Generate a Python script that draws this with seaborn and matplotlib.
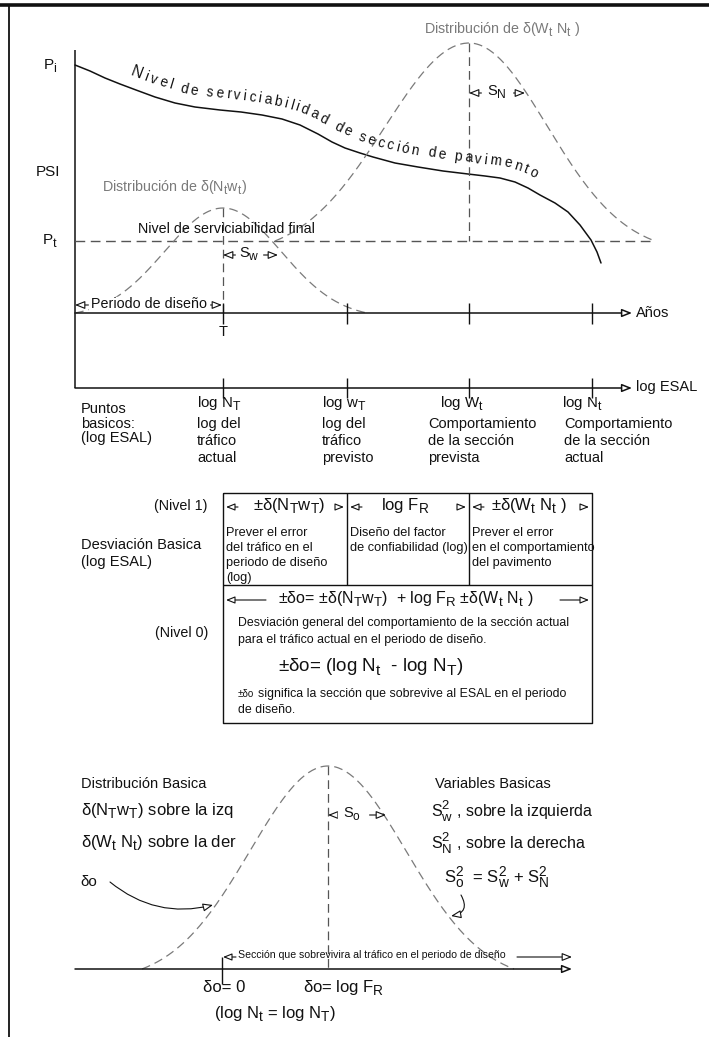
import numpy as np
import matplotlib
matplotlib.use("Agg")
import matplotlib.pyplot as plt
import seaborn as sns
from matplotlib.font_manager import FontProperties
from matplotlib.textpath import TextToPath

sns.set_theme(style="white")
FAMILY = "Liberation Sans"
plt.rcParams["font.family"] = [FAMILY, "DejaVu Sans"]
plt.rcParams["mathtext.fontset"] = "custom"
for _k in ("rm", "it", "bf", "sf"):
    plt.rcParams["mathtext." + _k] = FAMILY
plt.rcParams["mathtext.default"] = "regular"

# larger, lower subscripts as in drafting lettering
try:
    import matplotlib._mathtext as _mt
    _mt.SHRINK_FACTOR = 0.82
    _mt.FontConstantsBase.sub1 = 0.42
    _mt.FontConstantsBase.sub2 = 0.55
except Exception:
    pass

W, H = 709, 1037

# ---------------------------------------------------------------- data
# pavement serviceability (PSI) curve on the canvas grid
psi_x = [75, 90, 105, 120, 136, 155, 175, 195, 220, 241, 262, 282, 300, 318, 332,
         345, 360, 373, 395, 418, 443, 468, 485, 500, 515, 528, 540, 555, 568, 580,
         591, 597, 601]
psi_y = [65, 71, 78, 84, 90, 97, 103, 107, 110, 112, 115, 119, 125, 134, 142,
         148, 153, 157, 163, 167, 171, 174, 176, 178, 182, 188, 195, 203, 212, 225,
         240, 252, 263]
psi_caption = "Nivel de serviciabilidad de sección de pavimento"

# key points along the traffic axes
point_x = [223, 347, 469, 592]
point_labels = ["log N$_T$", "log w$_T$", "log W$_t$", "log N$_t$"]
point_notes = [["log del", "tráfico", "actual"],
               ["log del", "tráfico", "previsto"],
               ["Comportamiento", "de la sección", "prevista"],
               ["Comportamiento", "de la sección", "actual"]]

# distributions: mean, left sd, right sd, left end, right end, peak, base
bell_traffic = dict(mean=223, sdl=58, sdr=58, lo=75, hi=367, top=208, base=313)
bell_perf = dict(mean=469, sdl=84, sdr=78, lo=275, hi=655, top=43, base=241)
bell_total = dict(mean=328, sdl=78, sdr=78, lo=142, hi=514, top=766, base=969)

# reliability table
level1_heads = ["±δ(N$_T$w$_T$)", "log F$_R$", "±δ(W$_t$ N$_t$ )"]
level1_notes = [["Prever el error", "del tráfico en el", "periodo de diseño", "(log)"],
                ["Diseño del factor", "de confiabilidad (log)"],
                ["Prever el error", "en el comportamiento", "del pavimento"]]

BLACK = "#111111"
GREY = "#7a7a7a"
DASH = (0, (7, 4))

fig = plt.figure(figsize=(W / 100, H / 100), dpi=100)
ax = fig.add_axes([0, 0, 1, 1])
ax.set_xlim(0, W)
ax.set_ylim(H, 0)
ax.axis("off")

PX = 72 / 100  # points per canvas unit


def seg(x, y, color=BLACK, lw=1.0, ls="-"):
    ax.plot(x, y, color=color, lw=lw, ls=ls, solid_capstyle="butt")


def arrow(x0, y0, x1, y1, both=False, rad=0.0, lw=0.8, hl=0.5, hw=0.2):
    style = ("<|-|>" if both else "-|>") + f",head_length={hl},head_width={hw}"
    ax.annotate("", xy=(x1, y1), xytext=(x0, y0),
                arrowprops=dict(arrowstyle=style, fc="white", ec=BLACK, lw=lw,
                                shrinkA=0, shrinkB=0, mutation_scale=12,
                                connectionstyle=f"arc3,rad={rad}"))


def txt(x, y, s, size=10.5, ha="left", va="center", color=BLACK, **kw):
    ax.text(x, y, s, fontsize=size, ha=ha, va=va, color=color, **kw)


def stack(x, y0, dy, rows, size=10.5, **kw):
    for i, r in enumerate(rows):
        txt(x, y0 + i * dy, r, size=size, **kw)


def bell(p):
    x = np.linspace(p["lo"], p["hi"], 200)
    sd = np.where(x < p["mean"], p["sdl"], p["sdr"])
    g = np.exp(-0.5 * ((x - p["mean"]) / sd) ** 2)
    e_lo = np.exp(-0.5 * ((p["lo"] - p["mean"]) / p["sdl"]) ** 2)
    e_hi = np.exp(-0.5 * ((p["hi"] - p["mean"]) / p["sdr"]) ** 2)
    edge = np.where(x < p["mean"], e_lo, e_hi)
    g = np.clip((g - edge) / (1 - edge), 0, 1)
    y = p["base"] - (p["base"] - p["top"]) * g
    sns.lineplot(x=x, y=y, ax=ax, color=GREY, lw=0.9, linestyle=DASH,
                 estimator=None, sort=False)


# ---------------------------------------------------------------- frame
seg([0, W], [5, 5], lw=2.6)
seg([9, 9], [5, H], lw=1.3)

# ---------------------------------------------------------------- upper diagram
seg([75, 75], [50, 388], lw=1.1)
txt(50, 66, "P$_i$", size=11, ha="center")
txt(48, 172, "PSI", size=11, ha="center")
txt(50, 241, "P$_t$", size=11, ha="center")

# terminal serviceability
seg([75, 655], [241, 241], color="#555555", lw=1.0, ls=DASH)
txt(138, 229, "Nivel de serviciabilidad final", size=10.3)

# serviceability curve
sns.lineplot(x=psi_x, y=psi_y, ax=ax, color=BLACK, lw=1.1, estimator=None, sort=False)

# caption following the curve
t2p = TextToPath()


def text_along(xs, ys, text, gap, start, tracking):
    xs = np.asarray(xs, float)
    ys = np.asarray(ys, float)
    s = np.r_[0, np.cumsum(np.hypot(np.diff(xs), np.diff(ys)))]
    ss = np.linspace(0, s[-1], 3000)
    px, py = np.interp(ss, s, xs), np.interp(ss, s, ys)
    k = np.ones(150) / 150
    tx = np.convolve(np.gradient(px), k, mode="same")
    ty = np.convolve(np.gradient(py), k, mode="same")
    n = np.hypot(tx, ty)
    tx, ty = tx / n, ty / n
    ox, oy = px + gap * ty, py - gap * tx
    so = np.r_[0, np.cumsum(np.hypot(np.diff(ox), np.diff(oy)))]
    pos = start
    for i, ch in enumerate(text):
        size = 11.5 if i == 0 else 9.8
        fp = FontProperties(family=FAMILY, size=size)
        if ch == " ":
            w = 0.278 * size
        else:
            w = t2p.get_text_width_height_descent(ch, fp, ismath=False)[0]
        j = int(np.clip(np.searchsorted(so, pos), 0, len(so) - 1))
        ang = np.degrees(np.arctan2(-ty[j], tx[j]))
        ax.text(ox[j], oy[j], ch, fontproperties=fp, rotation=ang,
                rotation_mode="anchor", ha="left", va="baseline", color=BLACK)
        pos += w / PX + tracking


text_along(psi_x, psi_y, psi_caption, gap=12, start=55, tracking=2.7)

# performance distribution
bell(bell_perf)
seg([469, 469], [43, 241], color="#555555", lw=0.9, ls=DASH)
arrow(469, 93, 525, 93, both=True)
ax.add_patch(plt.Rectangle((482, 84), 30, 16, color="white", zorder=3))
txt(497, 92, "S$_N$", size=10.5, ha="center", zorder=4)
txt(502, 30, "Distribución de δ(W$_t$ N$_t$ )", size=10.3, ha="center", color=GREY)

# traffic distribution
bell(bell_traffic)
seg([223, 223], [208, 313], color="#555555", lw=0.9, ls=DASH)
arrow(223, 255, 278, 255, both=True)
ax.add_patch(plt.Rectangle((236, 246), 26, 16, color="white", zorder=3))
txt(249, 254, "S$_w$", size=10.5, ha="center", zorder=4)
txt(102, 188, "Distribución de δ(N$_t$w$_t$)", size=10.3, color=GREY)

# design period
arrow(75, 305, 222, 305, both=True)
ax.add_patch(plt.Rectangle((89, 297), 120, 15, color="white", zorder=3))
txt(149, 304, "Periodo de diseño", size=10.3, ha="center", zorder=4)

# time axis and load axis
arrow(75, 313, 632, 313, lw=1.1)
txt(636, 313, "Años", size=10.5)
arrow(75, 388, 632, 388, lw=1.1)
txt(636, 387, "log ESAL", size=10.5)
for xp in point_x:
    seg([xp, xp], [303, 324], lw=1.0)
    seg([xp, xp], [378, 398], lw=1.0)
txt(223, 332, "T", size=10.5, ha="center")

# labels of the key points
stack(81, 409, 14.5, ["Puntos", "basicos:", "(log ESAL)"])
label_x = [197, 322, 440, 562]
note_x = [197, 322, 428, 564]
for lx, nx, lab, notes in zip(label_x, note_x, point_labels, point_notes):
    txt(lx, 404, lab, size=10.8)
    stack(nx, 424, 17, notes)

# ---------------------------------------------------------------- table
seg([223, 592, 592, 223, 223], [493, 493, 723, 723, 493], lw=1.0)
seg([223, 592], [585, 585], lw=1.0)
for xv in (347, 469):
    seg([xv, xv], [493, 585], lw=1.0)
txt(208, 506, "(Nivel 1)", size=10.3, ha="right")
stack(81, 545, 17, ["Desviación Basica", "(log ESAL)"])

cells = [(223, 347), (347, 469), (469, 592)]
head_x = [289, 405, 529]
for (c0, c1), hx, head, notes in zip(cells, head_x, level1_heads, level1_notes):
    arrow(c0 + 15, 507, c0 + 3, 507, hl=0.45, hw=0.18)
    arrow(c1 - 11, 507, c1 - 3, 507, hl=0.45, hw=0.18)
    txt(hx, 506, head, size=12, ha="center")
    stack(c0 + 3, 533, 15, notes, size=9.2)

txt(208, 633, "(Nivel 0)", size=10.3, ha="right")
arrow(266, 600, 226, 600, hl=0.45, hw=0.18)
arrow(560, 600, 589, 600, hl=0.45, hw=0.18)
txt(278, 599, "±δo= ±δ(N$_T$w$_T$)  + log F$_R$ ±δ(W$_t$ N$_t$ )", size=11.5)
stack(238, 623, 17, ["Desviación general del comportamiento de la sección actual",
                     "para el tráfico actual en el periodo de diseño."], size=8.9)
txt(278, 667, "±δo= (log N$_t$  - log N$_T$)", size=13.5)
txt(238, 694, "±δo", size=7)
txt(258, 694, "significa la sección que sobrevive al ESAL en el periodo", size=8.9)
txt(238, 710, "de diseño.", size=8.9)

# ---------------------------------------------------------------- lower diagram
bell(bell_total)
seg([328, 328], [766, 969], color="#555555", lw=0.9, ls=DASH)
arrow(328, 815, 386, 815, both=True)
ax.add_patch(plt.Rectangle((338, 806), 30, 17, color="white", zorder=3))
txt(352, 814, "S$_o$", size=10.5, ha="center", zorder=4)

txt(81, 784, "Distribución Basica", size=10.5)
txt(81, 811, "δ(N$_T$w$_T$) sobre la izq", size=12)
txt(81, 843, "δ(W$_t$ N$_t$) sobre la der", size=12)
txt(80, 882, "δo", size=11)
arrow(110, 882, 213, 905, rad=0.25)

txt(435, 784, "Variables Basicas", size=10.5)
txt(431, 811, "$S^{2}_{w}$ , sobre la izquierda", size=11.5)
txt(431, 843, "$S^{2}_{N}$ , sobre la derecha", size=11.5)
txt(444, 878, "$S^{2}_{o}$  = $S^{2}_{w}$ + $S^{2}_{N}$", size=12)
arrow(461, 895, 451, 916, rad=-0.7)

# surviving section and deviation axis
arrow(75, 969, 572, 969, lw=1.1)
seg([222, 222], [957, 984], lw=1.0)
arrow(236, 957, 223, 957, hl=0.45, hw=0.18)
txt(238, 955, "Sección que sobrevivira al tráfico en el periodo de diseño", size=7.6)
arrow(517, 957, 572, 957)
txt(203, 988, "δo= 0", size=12)
txt(303, 988, "δo= log F$_R$", size=12)
txt(214, 1014, "(log N$_t$ = log N$_T$)", size=12)

fig.savefig("out.png", dpi=100)
